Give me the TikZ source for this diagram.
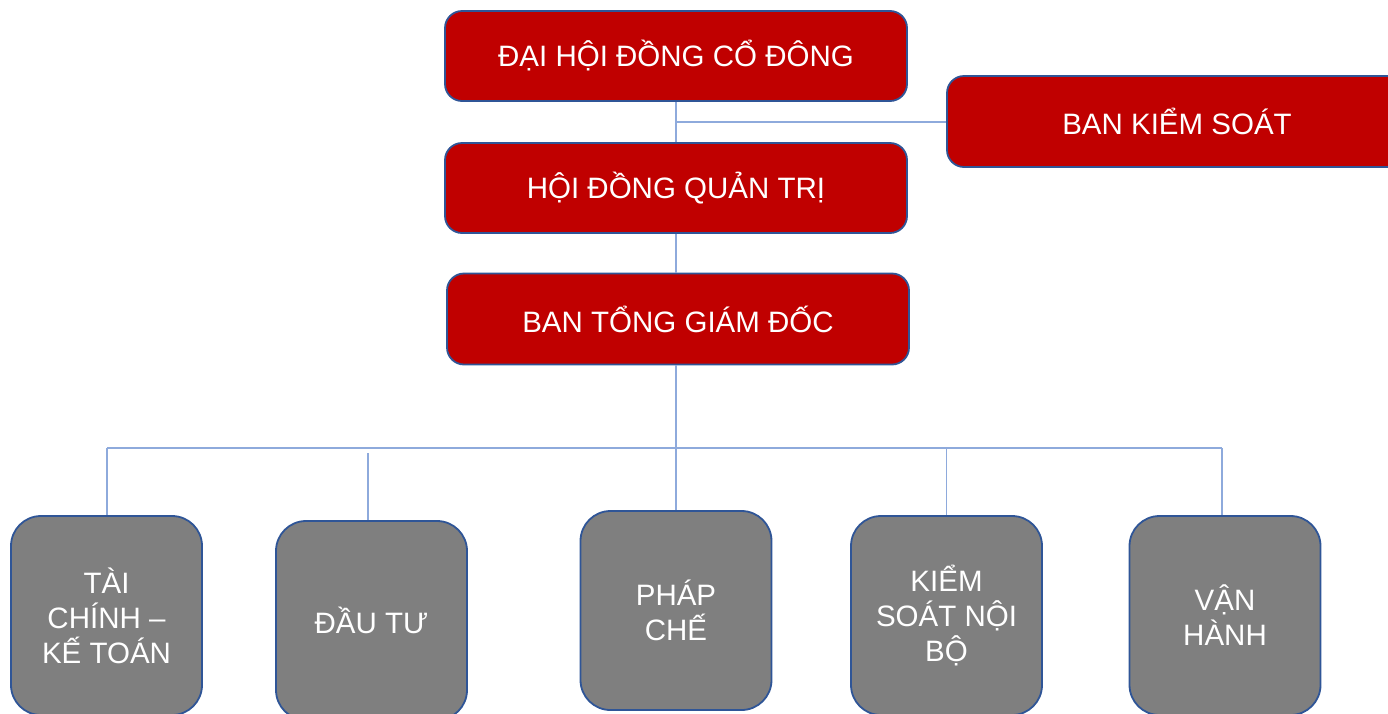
\documentclass[tikz,border=0pt]{standalone}
\usepackage{fontspec}
\setmainfont{Liberation Sans}
\definecolor{boxred}{HTML}{C00000}
\definecolor{boxgray}{HTML}{7F7F7F}
\definecolor{edgeblue}{HTML}{2F5597}
\definecolor{linkblue}{HTML}{8EAADC}
\begin{document}
\begin{tikzpicture}[x=1pt,y=-1pt,
  redbox/.style={draw=edgeblue, line width=1.8pt, fill=boxred, rounded corners=17pt,
    minimum width=462pt, minimum height=90pt, text=white, inner sep=0pt,
    font=\fontsize{29.5}{35}\selectfont},
  graybox/.style={draw=edgeblue, line width=1.8pt, fill=boxgray, rounded corners=30pt,
    minimum width=191pt, minimum height=199pt, text=white, inner sep=0pt, align=center,
    font=\fontsize{29.5}{35}\selectfont},
  link/.style={draw=linkblue, line width=1.3pt}]
\useasboundingbox (0,0) rectangle (1388,713);
\clip (0,0) rectangle (1388,713);
\fill[white] (0,0) rectangle (1388,713);
% red boxes
\node[redbox] (dhcd) at (676,56) {ĐẠI HỘI ĐỒNG CỔ ĐÔNG};
\node[redbox, minimum width=460pt, minimum height=91pt] (bks) at (1177,121.5) {BAN KIỂM SOÁT};
\node[redbox] (hdqt) at (676,188) {HỘI ĐỒNG QUẢN TRỊ};
\node[redbox, minimum height=91pt] (btgd) at (678,319) {BAN TỔNG GIÁM ĐỐC};
% gray boxes
\node[graybox] (tc) at (106.5,615.5) {TÀI\\CHÍNH –\\KẾ TOÁN};
\node[graybox] (dt) at (371.5,620.5) {ĐẦU TƯ};
\node[graybox] (pc) at (676,610.5) {PHÁP\\CHẾ};
\node[graybox] (ks) at (946.5,615.5) {KIỂM\\SOÁT NỘI\\BỘ};
\node[graybox] (vh) at (1225,615.5) {VẬN\\HÀNH};
% connector points
\coordinate (j1) at (676,122);
\coordinate (busL) at (107,448);
\coordinate (busR) at (1222,448);
\coordinate (dttop) at (368,453);
% connectors
\draw[link] (dhcd.south) -- (hdqt.north);
\draw[link] (j1) -- (j1 -| bks.west);
\draw[link] (hdqt.south) -- (btgd.north -| hdqt.south);
\draw[link] (btgd.south -| dhcd.south) -- (pc.north);
\draw[link] (busL) -- (busR);
\draw[link] (busL) -- (tc.north -| busL);
\draw[link] (dttop) -- (dt.north -| dttop);
\draw[link] (ks.north |- busL) -- (ks.north);
\draw[link] (busR) -- (vh.north -| busR);
\end{tikzpicture}
\end{document}
